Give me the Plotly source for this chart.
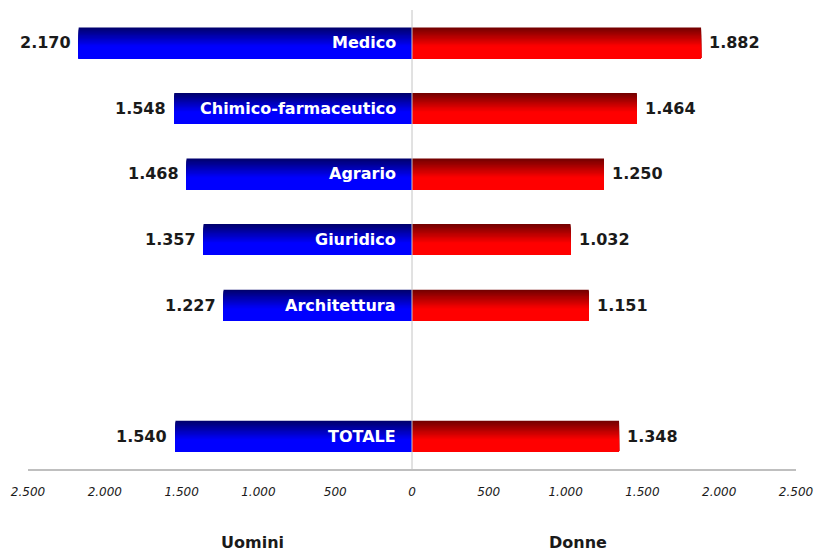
import plotly.graph_objects as go

categories = ["Medico", "Chimico-farmaceutico", "Agrario", "Giuridico", "Architettura", "TOTALE"]
positions = [0, 1, 2, 3, 4, 6]
uomini = [2170, 1548, 1468, 1357, 1227, 1540]
donne = [1882, 1464, 1250, 1032, 1151, 1348]
tick_vals = [-2500, -2000, -1500, -1000, -500, 0, 500, 1000, 1500, 2000, 2500]
tick_text = ["2.500", "2.000", "1.500", "1.000", "500", "0", "500", "1.000", "1.500", "2.000", "2.500"]

def fmt(v):
    return f"{v:,}".replace(",", ".")

BAR_W = 0.47
N = 24

def band_color(i, dark, bright):
    t = (i + 0.5) / N
    f = min(t / 0.62, 1.0)
    return "rgb({},{},{})".format(*[round(d + (b - d) * f) for d, b in zip(dark, bright)])

fig = go.Figure()
for i in range(N):
    off = -BAR_W / 2 + i * BAR_W / N
    w = BAR_W - i * BAR_W / N
    fig.add_trace(go.Bar(y=positions, x=[-v for v in uomini], orientation="h",
                         width=w, offset=off,
                         marker=dict(color=band_color(i, (0, 0, 105), (0, 0, 255)), line=dict(width=0)),
                         showlegend=False, hoverinfo="skip"))
    fig.add_trace(go.Bar(y=positions, x=donne, orientation="h",
                         width=w, offset=off,
                         marker=dict(color=band_color(i, (112, 0, 0), (255, 0, 0)), line=dict(width=0)),
                         showlegend=False, hoverinfo="skip"))

bold = dict(family="DejaVu Sans", size=16, color="#1a1a1a", weight="bold")
for p, c, u, d in zip(positions, categories, uomini, donne):
    fig.add_annotation(x=-u, y=p, text=fmt(u), showarrow=False, xanchor="right", xshift=-6,
                       font=bold)
    fig.add_annotation(x=d, y=p, text=fmt(d), showarrow=False, xanchor="left", xshift=6,
                       font=bold)
    fig.add_annotation(x=0, y=p, text=c, showarrow=False, xanchor="right", xshift=-14,
                       font=dict(family="DejaVu Sans", size=16, color="white", weight="bold"))

fig.add_annotation(xref="paper", yref="paper", x=0.2917, y=-0.161, text="Uomini", showarrow=False,
                   xanchor="center", yanchor="middle",
                   font=dict(family="DejaVu Sans", size=16, color="#1a1a1a", weight="bold"))
fig.add_annotation(xref="paper", yref="paper", x=0.716, y=-0.161, text="Donne", showarrow=False,
                   xanchor="center", yanchor="middle",
                   font=dict(family="DejaVu Sans", size=16, color="#1a1a1a", weight="bold"))

fig.add_vline(x=0, line=dict(color="#c4c4c4", width=1))

fig.update_layout(
    width=815, height=553,
    margin=dict(l=28, r=19, t=10, b=84, autoexpand=False),
    paper_bgcolor="white", plot_bgcolor="white",
    barmode="overlay",
    xaxis=dict(range=[-2500, 2500], tickvals=tick_vals, ticktext=tick_text,
               showgrid=False, zeroline=False, showline=True, linecolor="#bfbfbf", linewidth=2,
               ticks="", ticklabelstandoff=11, automargin=False,
               tickfont=dict(family="DejaVu Sans", size=12, color="#1a1a1a", style="italic")),
    yaxis=dict(range=[6.5, -0.5], showgrid=False, zeroline=False, showticklabels=False,
               showline=False, ticks=""),
)

fig.write_html("out.html", config={"displayModeBar": False},
               post_script="document.body.style.margin='0';")
with open("out.html", "r", encoding="utf-8") as fh:
    html = fh.read()
html = html.replace("<head>", "<head><style>html,body{margin:0;padding:0;overflow:hidden;}</style>", 1)
with open("out.html", "w", encoding="utf-8") as fh:
    fh.write(html)
